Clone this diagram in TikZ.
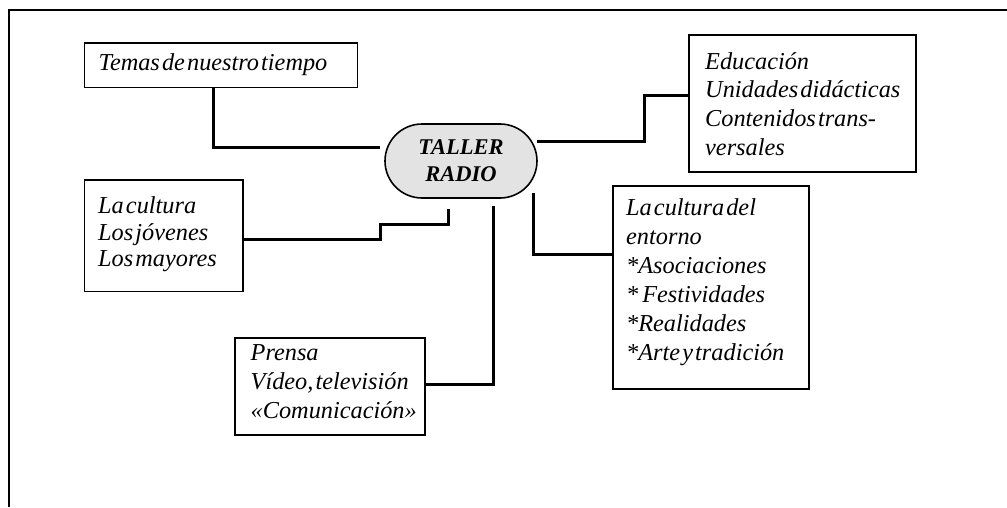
\documentclass[tikz,border=0pt]{standalone}
\usepackage{fontspec}
\setmainfont{Liberation Serif}
\newfontfamily\boxfont[WordSpace=0.35]{Liberation Serif}
\usetikzlibrary{calc}
\tikzset{
  boxn/.style={draw, line width=1.6pt, inner sep=0pt, anchor=north west},
  conn/.style={line width=3pt, line cap=butt},
  txt/.style={anchor=base west, inner sep=0pt, font=\boxfont\itshape\fontsize{24.3}{28.8}\selectfont},
  hub/.style={draw, fill=black!11, line width=1.6pt, rounded corners=37pt, inner sep=0pt,
    minimum width=152pt, minimum height=74pt, align=center,
    font=\bfseries\itshape\fontsize{22.5}{27.3}\selectfont},
}
\begin{document}
\begin{tikzpicture}[x=1pt,y=-1pt]
\useasboundingbox (0,0) rectangle (1007,507);
\fill[white] (0,0) rectangle (1007,507);
\draw[line width=1.5pt] (1007,10) -- (8.8,10) -- (8.8,507);

% boxes
\node[boxn, minimum width=273.2pt, minimum height=44.4pt] (temas) at (83.5,42.3) {};
\node[boxn, minimum width=158.5pt, minimum height=111.7pt] (cultura) at (83.5,179) {};
\node[boxn, minimum width=189.6pt, minimum height=97pt] (prensa) at (234.4,337.3) {};
\node[boxn, minimum width=226.7pt, minimum height=136.7pt] (educ) at (688.3,34.3) {};
\node[boxn, minimum width=196pt, minimum height=203.3pt] (entorno) at (612.3,185) {};
\node[hub] (radio) at (461,161) {TALLER\\RADIO};

% texts
\node[txt] (temast) at (98.5,70) {\vtop{\hbox{Temas de nuestro tiempo}}};
\node[txt] (culturat) at (98,213.3) {\vtop{\baselineskip=26.8pt\hbox{La cultura}\hbox{Los jóvenes}\hbox{Los mayores}}};
\node[txt] (prensat) at (250.5,360.7) {\vtop{\baselineskip=29pt\hbox{Prensa}\hbox{Vídeo, televisión}\hbox{«Comunicación»}}};
\node[txt] (educt) at (705,69.3) {\vtop{\baselineskip=28.6pt\hbox{Educación}\hbox{Unidades didácticas}\hbox{Contenidos trans-}\hbox{versales}}};
\node[txt] (entornot) at (626,215) {\vtop{\baselineskip=29pt\hbox{La cultura del}\hbox{entorno}\hbox{*Asociaciones}\hbox{*\hspace{4pt}Festividades}\hbox{*Realidades}\hbox{*Arte y tradición}}};

% connectors
\draw[conn] ($(temas.south west)+(129.5,0)$) |- ($(radio.west)+(-4.4,-14)$);
\draw[conn] ($(radio.east)+(-1,-19.3)$) -- ++(107.3,0) |- ($(educ.west)+(0,-7.65)$);
\draw[conn] ($(radio.east)+(-4.7,31.7)$) |- ($(entorno.west)+(0,-33.35)$);
\draw[conn] ($(cultura.east)+(0,3.45)$) -- ++(136.8,0) -- ++(0,-14.3) -| ($(radio.south)+(-12.7,10.3)$);
\draw[conn] ($(radio.south)+(32.5,7)$) |- ($(prensa.east)+(0,-2.5)$);
\end{tikzpicture}
\end{document}
